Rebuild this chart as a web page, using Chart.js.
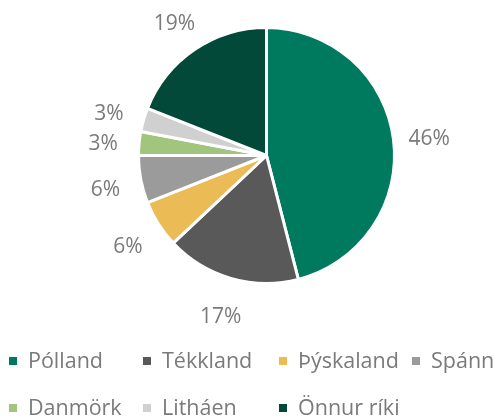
<!DOCTYPE html>
<html>
<head>
<meta charset="utf-8">
<script src="https://cdn.jsdelivr.net/npm/chart.js@4"></script>
<style>
  html, body { margin: 0; padding: 0; background: #fff; }
  #wrap { position: relative; width: 500px; height: 418px; overflow: hidden; font-family: "Open Sans", sans-serif; }
  #box { position: absolute; left: 0; top: 0; width: 500px; height: 330px; }
  #legend { position: absolute; left: 0; top: 0; width: 500px; height: 418px; pointer-events: none; }
  .item { position: absolute; font-size: 21.5px; color: #7a7a7a; line-height: 26px; white-space: nowrap; }
  .item span.sw { position: absolute; left: -19px; top: 10px; width: 8px; height: 8px; }
</style>
</head>
<body>
<div id="wrap">
  <div id="box"><canvas id="pie"></canvas></div>
  <div id="legend"></div>
</div>
<script>
// data
const countries = ['Pólland', 'Tékkland', 'Þýskaland', 'Spánn', 'Danmörk', 'Litháen', 'Önnur ríki'];
const shares = [46, 17, 6, 6, 3, 3, 19];
const colors = ['#007A5E', '#595959', '#EBBB55', '#9B9B9B', '#A2C57D', '#D0D0D0', '#02493A'];

// percent labels outside each slice
const outsideLabels = {
    id: 'outsideLabels',
    afterDatasetsDraw(chart) {
        const ctx = chart.ctx;
        const meta = chart.getDatasetMeta(0);
        ctx.save();
        ctx.font = '21px "Open Sans", sans-serif';
        ctx.fillStyle = '#7a7a7a';
        ctx.textAlign = 'center';
        ctx.textBaseline = 'middle';
        meta.data.forEach((arc, i) => {
            const p = arc.getProps(['x', 'y', 'startAngle', 'endAngle', 'outerRadius'], true);
            const mid = (p.startAngle + p.endAngle) / 2;
            const d = p.outerRadius + 36;
            ctx.fillText(shares[i] + '%', p.x + Math.cos(mid) * d, p.y + Math.sin(mid) * d + 4);
        });
        ctx.restore();
    }
};

const chart = new Chart(document.getElementById('pie').getContext('2d'), {
    type: 'pie',
    data: {
        labels: countries,
        datasets: [{
            data: shares,
            backgroundColor: colors,
            borderColor: '#ffffff',
            borderWidth: 3
        }]
    },
    options: {
        responsive: true,
        maintainAspectRatio: false,
        animation: false,
        layout: { padding: { top: 26, bottom: 45, left: 33, right: 0 } },
        plugins: {
            legend: { display: false },
            tooltip: { enabled: false }
        }
    },
    plugins: [outsideLabels]
});

// legend laid out in columns like the original
const legendPos = [[28, 347], [162, 347], [298, 347], [431, 347], [28, 394], [162, 394], [298, 394]];
const legend = document.getElementById('legend');
countries.forEach((c, i) => {
    const el = document.createElement('div');
    el.className = 'item';
    el.style.left = legendPos[i][0] + 'px';
    el.style.top = legendPos[i][1] + 'px';
    el.innerHTML = '<span class="sw" style="background:' + colors[i] + '"></span>' + c;
    legend.appendChild(el);
});
</script>
</body>
</html>
